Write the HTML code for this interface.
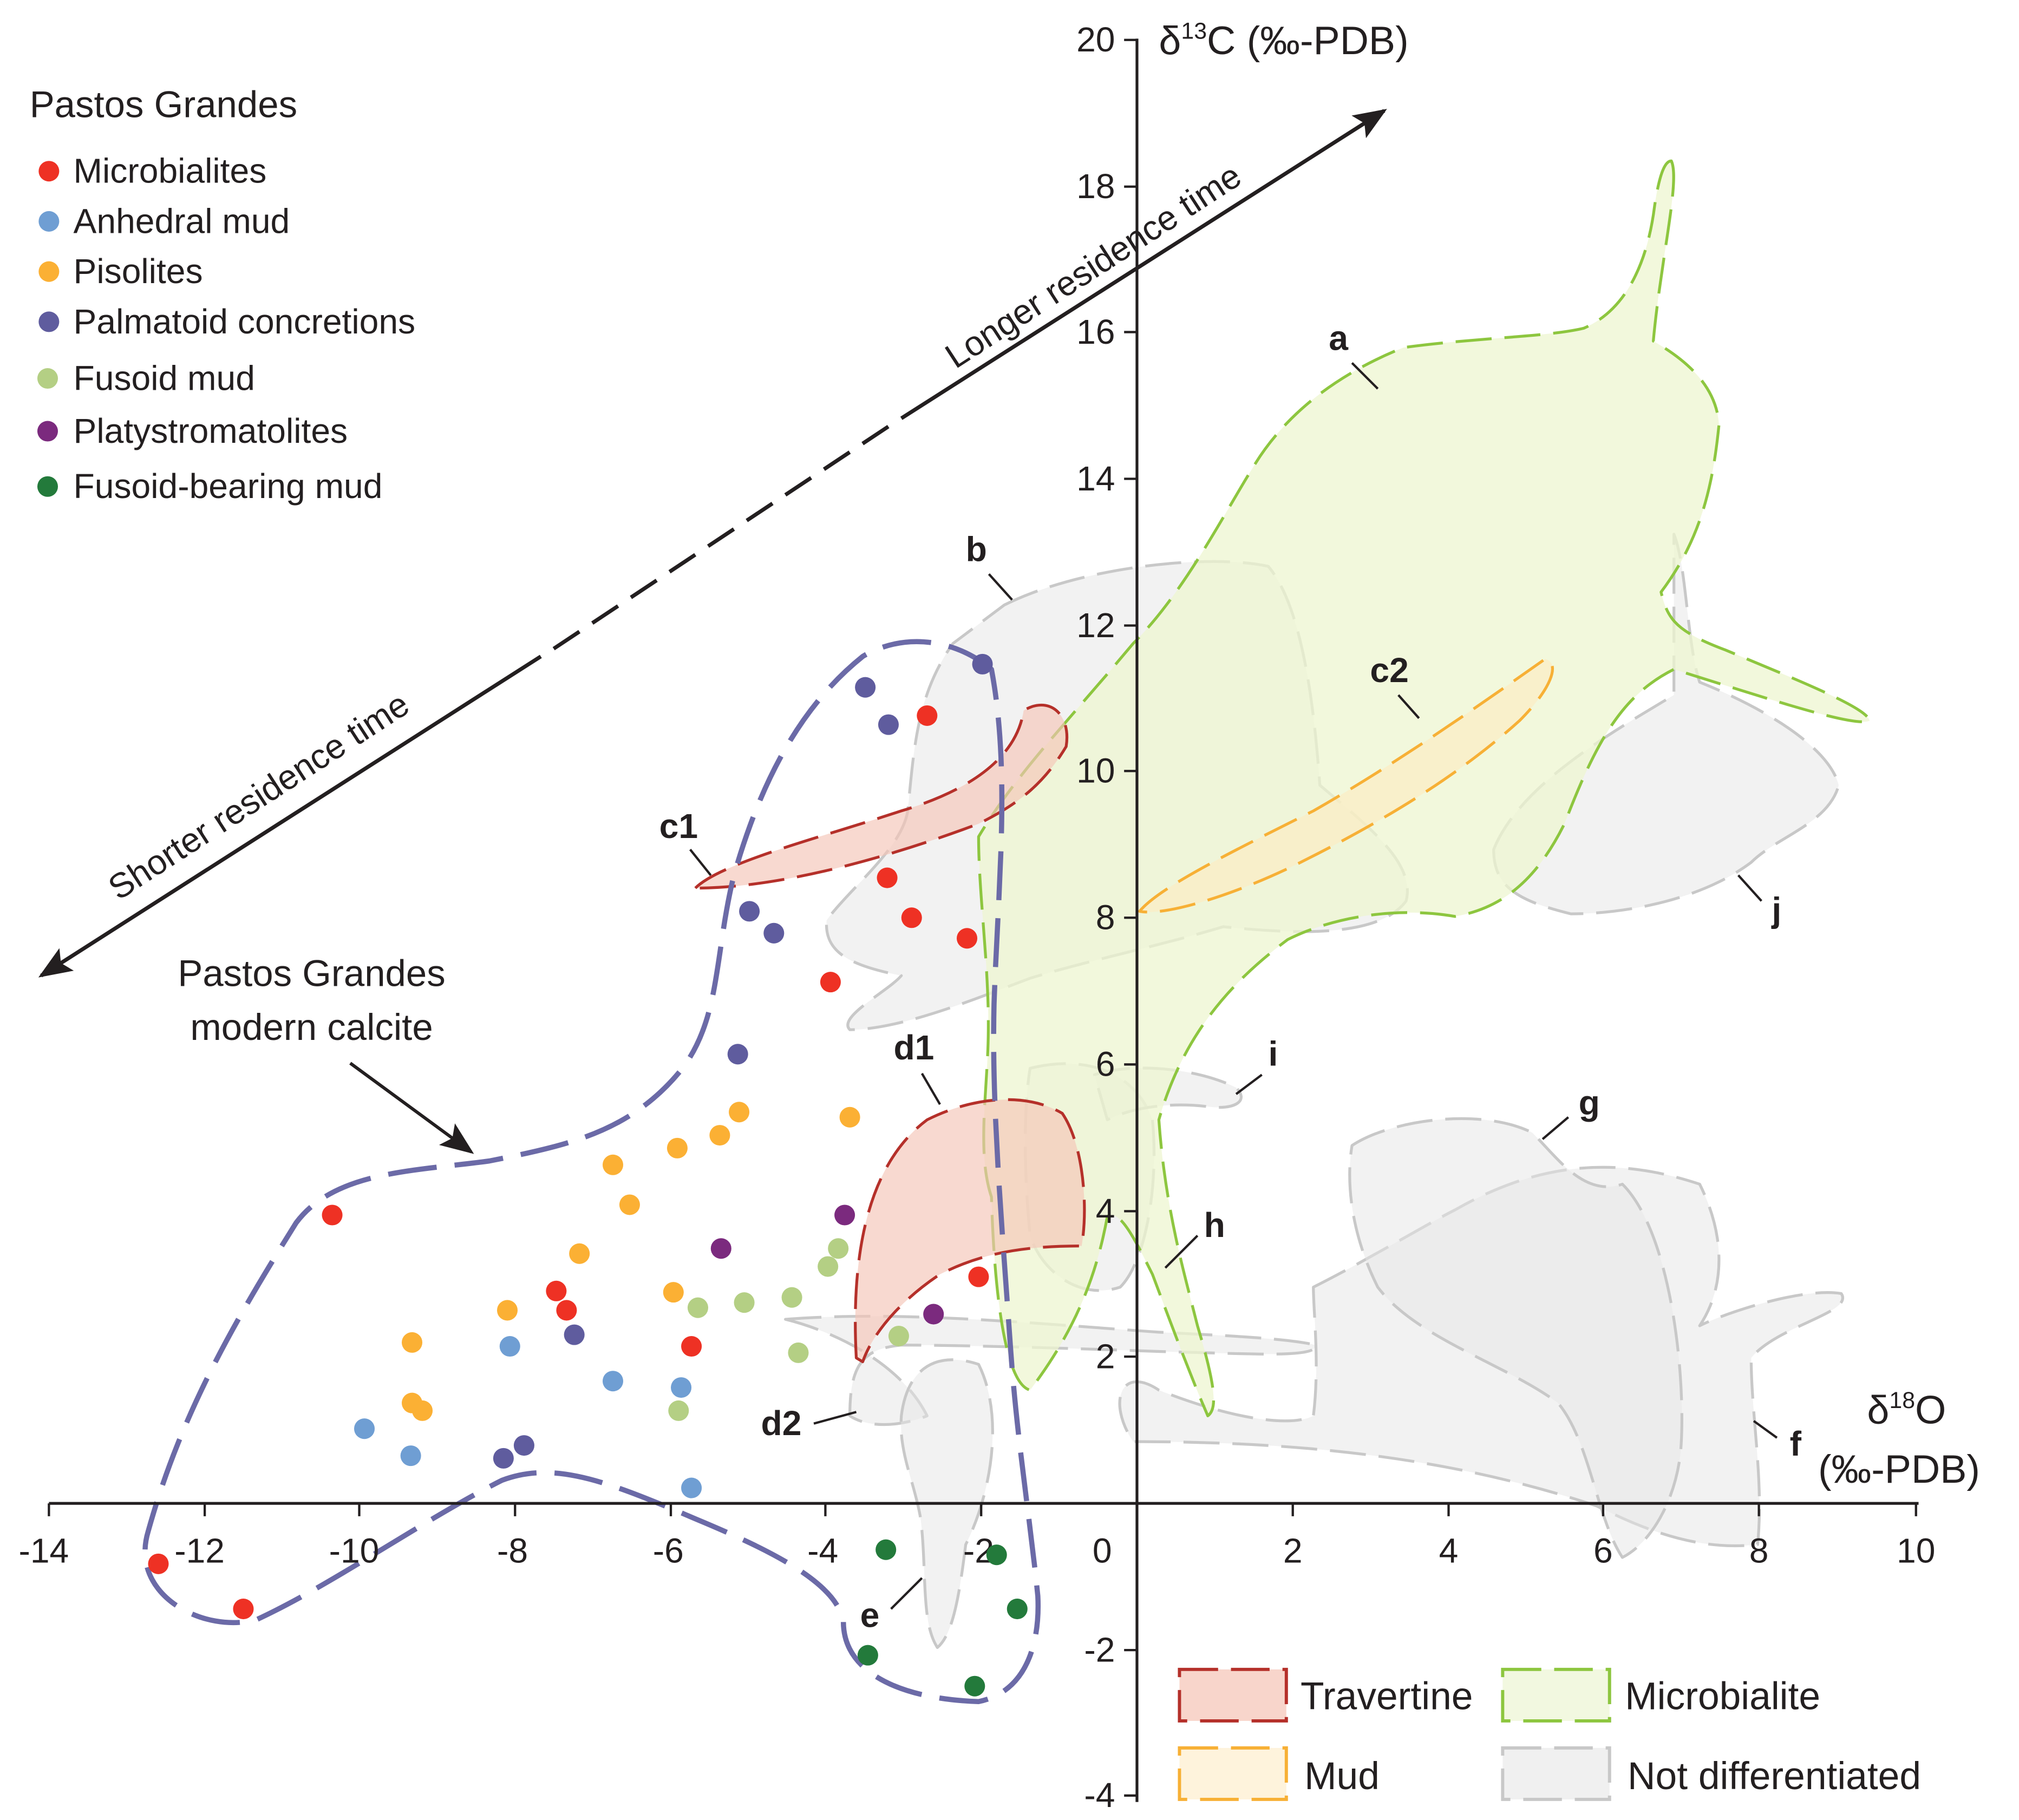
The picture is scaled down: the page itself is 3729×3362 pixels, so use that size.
<!DOCTYPE html>
<html><head><meta charset="utf-8"><style>
html,body{margin:0;padding:0;background:#fff}
svg{display:block}
text{font-family:"Liberation Sans",sans-serif;fill:#231f20}
</style></head><body>
<svg width="3729" height="3362" viewBox="0 0 1568 1414" preserveAspectRatio="none" xmlns="http://www.w3.org/2000/svg">
<defs>
<marker id="ah" viewBox="0 0 10 10" refX="9" refY="5" markerWidth="7" markerHeight="7" orient="auto-start-reverse" markerUnits="userSpaceOnUse"><path d="M0,0 L10,5 L0,10 Z" fill="#231f20"/></marker>
<marker id="ah2" viewBox="0 0 10 10" refX="9" refY="5" markerWidth="26" markerHeight="26" orient="auto-start-reverse" markerUnits="userSpaceOnUse"><path d="M0,1 L10,5 L0,9 L2,5 Z" fill="#231f20"/></marker>
</defs>
<g stroke-dasharray="28,10" stroke-width="2.2" stroke-linejoin="round">
<!-- not differentiated gray -->
<g fill="#e6e6e6" fill-opacity="0.5" stroke="#c8c8c8">
<path d="M780,470 C840,440 940,430 985,440 C1010,470 1020,540 1025,610 C1060,640 1100,670 1092,700 C1070,730 1000,725 950,720 C900,735 850,745 800,760 C760,775 700,800 660,800 C650,790 690,770 700,758 C660,750 640,740 642,715 C660,690 700,660 705,630 C710,580 712,540 740,500 Z"/>
<path d="M610,1025 C700,1018 800,1028 900,1035 C960,1038 1000,1040 1022,1045 C1022,1055 980,1052 900,1050 C820,1047 740,1045 700,1045 C670,1048 660,1060 660,1100 C675,1110 700,1108 720,1100 C700,1060 650,1035 610,1025 Z"/>
<path d="M700,1100 C705,1060 730,1050 760,1060 C780,1100 770,1160 750,1200 C745,1240 740,1270 728,1280 C715,1260 720,1220 715,1180 C710,1150 698,1130 700,1100 Z"/>
<path d="M1020,1000 C1060,980 1110,950 1130,940 C1200,900 1260,900 1320,920 C1340,960 1340,1000 1320,1030 C1340,1020 1400,1000 1430,1005 C1440,1020 1380,1030 1360,1055 C1360,1100 1370,1150 1365,1200 C1320,1205 1280,1190 1240,1170 C1120,1130 1000,1120 880,1120 C860,1090 870,1060 900,1080 C950,1100 1000,1110 1020,1100 C1025,1060 1020,1020 1020,1000 Z"/>
<path d="M1050,890 C1080,870 1150,860 1190,880 C1210,900 1230,930 1260,920 C1300,960 1310,1080 1305,1130 C1300,1170 1280,1200 1260,1210 C1240,1180 1235,1120 1210,1090 C1170,1060 1100,1040 1070,1000 C1050,960 1045,920 1050,890 Z"/>
<path d="M800,830 C840,820 880,830 895,870 C900,920 890,980 870,1000 C840,1010 810,990 800,960 C795,910 795,860 800,830 Z"/>
<path d="M850,835 C880,825 930,830 960,845 C970,855 960,862 940,860 C910,856 880,860 860,870 Z"/>
<path d="M1160,660 C1180,610 1250,570 1300,540 C1300,500 1300,440 1300,415 C1310,440 1310,500 1320,530 C1370,550 1420,580 1428,610 C1420,640 1380,650 1360,670 C1320,700 1260,710 1220,710 C1180,700 1160,690 1160,660 Z"/>
</g>
<!-- microbialite a -->
<path fill="#eef5d0" fill-opacity="0.75" stroke="#8dc63f" d="M1298,125 C1305,140 1290,200 1284,265 C1310,280 1333,300 1335,330 C1330,380 1320,420 1290,460 C1295,480 1300,490 1340,505 C1400,530 1450,550 1452,560 C1440,565 1380,545 1300,520 C1260,540 1240,575 1215,640 C1195,680 1170,705 1130,712 C1090,705 1040,710 1000,730 C960,760 920,800 900,870 C905,940 920,990 930,1030 C945,1080 945,1095 938,1100 C925,1070 910,1030 895,990 C880,960 870,940 860,945 C850,1000 830,1040 800,1080 C780,1075 772,1000 770,930 C760,900 765,860 767,820 C770,760 760,700 760,650 C790,600 830,560 880,500 C920,460 950,400 975,360 C1000,320 1040,290 1090,270 C1150,262 1200,262 1230,255 C1265,240 1280,200 1285,160 C1288,140 1292,125 1298,125 Z"/>
<!-- c2 mud -->
<path fill="#fdebc0" fill-opacity="0.6" stroke="#f7b036" d="M885,708 C900,690 950,665 1020,630 C1090,590 1160,540 1200,512 C1212,515 1205,535 1180,560 C1130,605 1070,640 1010,670 C960,695 905,712 885,708 Z"/>
<!-- travertine c1, d1 -->
<path fill="#f4c5b7" fill-opacity="0.65" stroke="#b5302a" d="M540,690 C560,670 640,650 700,630 C760,612 790,585 795,552 C815,540 832,555 828,580 C810,610 790,625 760,640 C680,670 600,690 540,690 Z"/>
<path fill="#f4c5b7" fill-opacity="0.65" stroke="#b5302a" d="M665,1055 C660,960 680,900 720,870 C760,850 800,850 825,865 C842,890 845,940 840,968 C790,968 760,975 730,990 C700,1010 678,1035 670,1058 Z"/>
<!-- modern calcite -->
<path fill="none" stroke="#6b6aa7" stroke-width="4" stroke-dasharray="38,14" d="M770,520 C740,495 700,492 670,510 C620,550 590,610 570,680 C555,740 560,790 530,830 C490,880 440,890 380,902 C320,910 260,910 230,950 C180,1030 140,1100 115,1190 C100,1240 160,1270 200,1258 C260,1230 330,1180 390,1150 C430,1135 470,1150 540,1180 C600,1205 650,1230 655,1260 C655,1300 700,1320 760,1322 C795,1315 808,1280 806,1240 C800,1180 790,1120 785,1050 C778,950 770,860 772,780 C775,690 785,600 770,520 Z"/>
</g>
<!-- axes -->
<g stroke="#231f20" stroke-width="2.2">
<line x1="883" y1="30" x2="883" y2="1400"/>
<line x1="38" y1="1168" x2="1490" y2="1168"/>
<g stroke-width="1.8">
<line x1="873" y1="31" x2="883" y2="31"/><line x1="873" y1="145" x2="883" y2="145"/><line x1="873" y1="258" x2="883" y2="258"/><line x1="873" y1="372" x2="883" y2="372"/><line x1="873" y1="486" x2="883" y2="486"/><line x1="873" y1="599" x2="883" y2="599"/><line x1="873" y1="713" x2="883" y2="713"/><line x1="873" y1="827" x2="883" y2="827"/><line x1="873" y1="941" x2="883" y2="941"/><line x1="873" y1="1054" x2="883" y2="1054"/><line x1="873" y1="1282" x2="883" y2="1282"/><line x1="873" y1="1395" x2="883" y2="1395"/>
<line x1="38" y1="1168" x2="38" y2="1178"/><line x1="159" y1="1168" x2="159" y2="1178"/><line x1="279" y1="1168" x2="279" y2="1178"/><line x1="400" y1="1168" x2="400" y2="1178"/><line x1="521" y1="1168" x2="521" y2="1178"/><line x1="641" y1="1168" x2="641" y2="1178"/><line x1="762" y1="1168" x2="762" y2="1178"/><line x1="1004" y1="1168" x2="1004" y2="1178"/><line x1="1125" y1="1168" x2="1125" y2="1178"/><line x1="1245" y1="1168" x2="1245" y2="1178"/><line x1="1366" y1="1168" x2="1366" y2="1178"/><line x1="1488" y1="1168" x2="1488" y2="1178"/>
</g>
</g>
<g font-size="27" text-anchor="end">
<text x="866" y="40">20</text><text x="866" y="154">18</text><text x="866" y="267">16</text><text x="866" y="381">14</text><text x="866" y="495">12</text><text x="866" y="608">10</text><text x="866" y="722">8</text><text x="866" y="836">6</text><text x="866" y="950">4</text><text x="866" y="1063">2</text><text x="866" y="1291">-2</text><text x="866" y="1404">-4</text>
</g>
<g font-size="27" text-anchor="middle">
<text x="34" y="1214">-14</text><text x="155" y="1214">-12</text><text x="275" y="1214">-10</text><text x="398" y="1214">-8</text><text x="519" y="1214">-6</text><text x="639" y="1214">-4</text><text x="760" y="1214">-2</text><text x="856" y="1214">0</text><text x="1004" y="1214">2</text><text x="1125" y="1214">4</text><text x="1245" y="1214">6</text><text x="1366" y="1214">8</text><text x="1488" y="1214">10</text>
</g>
<text x="900" y="42" font-size="31">δ<tspan font-size="18" dy="-12">13</tspan><tspan dy="12">C (‰-PDB)</tspan></text>
<text x="1450" y="1106" font-size="31">δ<tspan font-size="18" dy="-12">18</tspan><tspan dy="12">O</tspan></text>
<text x="1412" y="1152" font-size="31">(‰-PDB)</text>
<!-- residence arrow -->
<g stroke="#231f20" stroke-width="3" fill="none">
<line x1="420" y1="510" x2="32" y2="758" marker-end="url(#ah2)"/>
<line x1="700" y1="325" x2="1075" y2="86" marker-end="url(#ah2)"/>
<line x1="430" y1="504" x2="695" y2="328" stroke-dasharray="24,12"/>
</g>
<text font-size="27" transform="translate(92,700) rotate(-33)">Shorter residence time</text>
<text font-size="27" transform="translate(742,287) rotate(-33)">Longer residence time</text>
<!-- modern calcite label -->
<text x="242" y="766" font-size="29" text-anchor="middle">Pastos Grandes</text>
<text x="242" y="808" font-size="29" text-anchor="middle">modern calcite</text>
<line x1="272" y1="826" x2="366" y2="895" stroke="#231f20" stroke-width="2.5" marker-end="url(#ah2)"/>
<!-- letter labels -->
<g font-size="27" font-weight="bold">
<text x="1032" y="272">a</text><text x="750" y="436">b</text><text x="512" y="651">c1</text><text x="1064" y="530">c2</text><text x="694" y="823">d1</text><text x="591" y="1115">d2</text><text x="668" y="1264">e</text><text x="1390" y="1131">f</text><text x="1226" y="866">g</text><text x="935" y="961">h</text><text x="985" y="828">i</text><text x="1376" y="716">j</text>
</g>
<g stroke="#231f20" stroke-width="1.8">
<line x1="1050" y1="282" x2="1070" y2="302"/><line x1="768" y1="446" x2="786" y2="466"/><line x1="536" y1="660" x2="552" y2="680"/><line x1="1086" y1="540" x2="1102" y2="558"/><line x1="716" y1="834" x2="730" y2="858"/><line x1="632" y1="1106" x2="665" y2="1097"/><line x1="692" y1="1250" x2="716" y2="1226"/><line x1="1380" y1="1117" x2="1362" y2="1104"/><line x1="1218" y1="868" x2="1198" y2="885"/><line x1="930" y1="960" x2="905" y2="985"/><line x1="980" y1="835" x2="960" y2="850"/><line x1="1368" y1="700" x2="1350" y2="680"/>
</g>
<!-- data points -->
<g>
<g fill="#ee3124"><circle cx="720" cy="556" r="8"/><circle cx="689" cy="682" r="8"/><circle cx="708" cy="713" r="8"/><circle cx="751" cy="729" r="8"/><circle cx="645" cy="763" r="8"/><circle cx="258" cy="944" r="8"/><circle cx="432" cy="1003" r="8"/><circle cx="440" cy="1018" r="8"/><circle cx="537" cy="1046" r="8"/><circle cx="760" cy="992" r="8"/><circle cx="123" cy="1215" r="8"/><circle cx="189" cy="1250" r="8"/></g>
<g fill="#6f9ed3"><circle cx="396" cy="1046" r="8"/><circle cx="476" cy="1073" r="8"/><circle cx="529" cy="1078" r="8"/><circle cx="283" cy="1110" r="8"/><circle cx="319" cy="1131" r="8"/><circle cx="537" cy="1156" r="8"/></g>
<g fill="#fbb034"><circle cx="660" cy="868" r="8"/><circle cx="574" cy="864" r="8"/><circle cx="559" cy="882" r="8"/><circle cx="526" cy="892" r="8"/><circle cx="476" cy="905" r="8"/><circle cx="489" cy="936" r="8"/><circle cx="450" cy="974" r="8"/><circle cx="394" cy="1018" r="8"/><circle cx="523" cy="1004" r="8"/><circle cx="320" cy="1043" r="8"/><circle cx="320" cy="1090" r="8"/><circle cx="328" cy="1096" r="8"/></g>
<g fill="#5f5c9e"><circle cx="672" cy="534" r="8"/><circle cx="690" cy="563" r="8"/><circle cx="763" cy="516" r="8"/><circle cx="582" cy="708" r="8"/><circle cx="601" cy="725" r="8"/><circle cx="573" cy="819" r="8"/><circle cx="446" cy="1037" r="8"/><circle cx="391" cy="1133" r="8"/><circle cx="407" cy="1123" r="8"/></g>
<g fill="#b4cf84"><circle cx="651" cy="970" r="8"/><circle cx="643" cy="984" r="8"/><circle cx="615" cy="1008" r="8"/><circle cx="578" cy="1012" r="8"/><circle cx="542" cy="1016" r="8"/><circle cx="698" cy="1038" r="8"/><circle cx="620" cy="1051" r="8"/><circle cx="527" cy="1096" r="8"/></g>
<g fill="#7b2a7e"><circle cx="656" cy="944" r="8"/><circle cx="560" cy="970" r="8"/><circle cx="725" cy="1021" r="8"/></g>
<g fill="#237a3b"><circle cx="688" cy="1204" r="8"/><circle cx="774" cy="1208" r="8"/><circle cx="790" cy="1250" r="8"/><circle cx="674" cy="1286" r="8"/><circle cx="757" cy="1310" r="8"/></g>
</g>
<!-- top legend -->
<text x="23" y="91" font-size="29">Pastos Grandes</text>
<g font-size="27">
<circle cx="38" cy="133" r="8" fill="#ee3124"/><text x="57" y="142">Microbialites</text>
<circle cx="38" cy="172" r="8" fill="#6f9ed3"/><text x="57" y="181">Anhedral mud</text>
<circle cx="38" cy="211" r="8" fill="#fbb034"/><text x="57" y="220">Pisolites</text>
<circle cx="38" cy="250" r="8" fill="#5f5c9e"/><text x="57" y="259">Palmatoid concretions</text>
<circle cx="37" cy="294" r="8" fill="#b4cf84"/><text x="57" y="303">Fusoid mud</text>
<circle cx="37" cy="335" r="8" fill="#7b2a7e"/><text x="57" y="344">Platystromatolites</text>
<circle cx="37" cy="378" r="8" fill="#237a3b"/><text x="57" y="387">Fusoid-bearing mud</text>
</g>
<!-- bottom legend -->
<g stroke-width="2.5" stroke-dasharray="30,10">
<rect x="916" y="1297" width="83" height="40" fill="#f8d5cb" stroke="#b5302a"/>
<rect x="916" y="1358" width="83" height="40" fill="#fef3dc" stroke="#f7b036"/>
<rect x="1167" y="1297" width="83" height="40" fill="#f2f8e0" stroke="#8dc63f"/>
<rect x="1167" y="1358" width="83" height="40" fill="#f0f0f0" stroke="#c8c8c8"/>
</g>
<g font-size="30">
<text x="1010" y="1328">Travertine</text><text x="1013" y="1390">Mud</text>
<text x="1262" y="1328">Microbialite</text><text x="1264" y="1390">Not differentiated</text>
</g>
</svg>
</body></html>
